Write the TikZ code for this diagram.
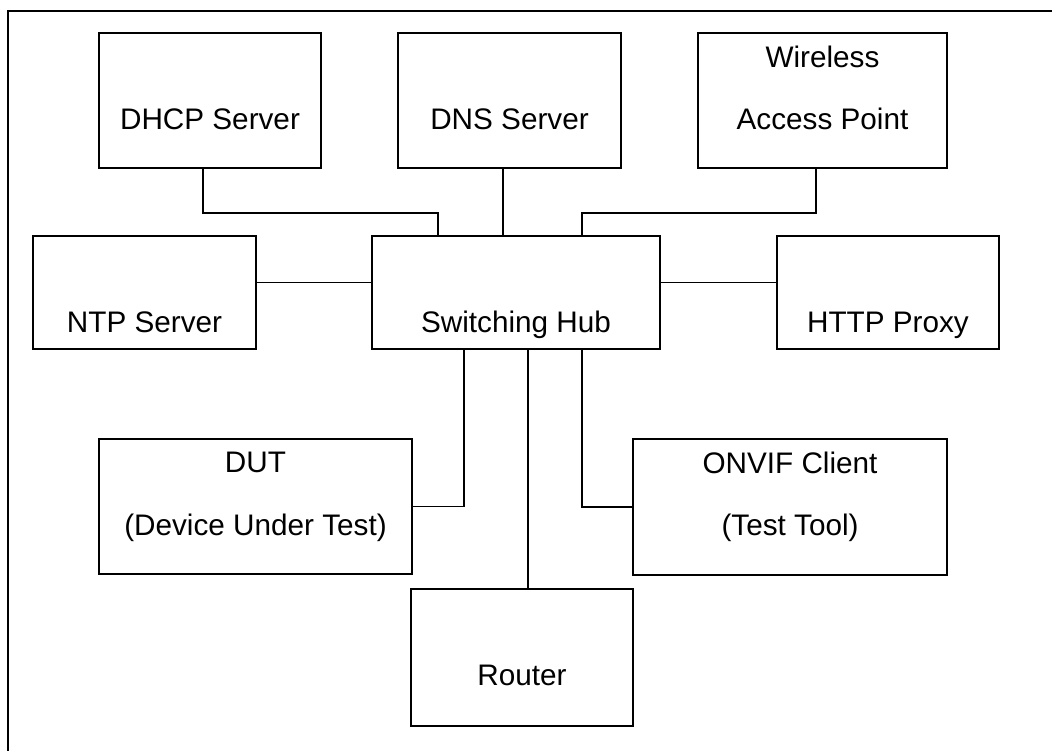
\documentclass[tikz,border=0pt]{standalone}
\usepackage{fontspec}
\setmainfont{Liberation Sans}

\begin{document}
\begin{tikzpicture}[x=1pt, y=-1pt,
    box/.style={draw, line width=1.3pt, rectangle, inner sep=0pt, outer sep=0pt},
    lbl/.style={font=\fontsize{29.7}{36}\selectfont, inner sep=0pt, text height=21pt, text depth=0pt},
    wire/.style={line width=1.8pt}]
	
	\useasboundingbox (0,0) rectangle (1052,751);
	
	% Frame (only top and left edges are seen)
	\draw[line width=2pt] (8,751) -- (8,11) -- (1052,11);
	
	% Top row of servers
	\node[box, minimum width=222pt, minimum height=135pt] (dhcp) at (210,100.5) {};
	\node[box, minimum width=223pt, minimum height=135pt] (dns) at (509.5,100.5) {};
	\node[box, minimum width=249pt, minimum height=135pt] (wap) at (822.5,100.5) {};
	\node[lbl] (dhcp-txt) at ([yshift=-86pt]dhcp.north) {DHCP Server};
	\node[lbl] (dns-txt) at ([yshift=-86pt]dns.north) {DNS Server};
	\node[lbl] (wap-txt1) at ([yshift=-24pt]wap.north) {Wireless};
	\node[lbl] (wap-txt2) at ([yshift=-86pt]wap.north) {Access Point};
	
	% Middle row with the hub
	\node[box, minimum width=223pt, minimum height=113pt] (ntp) at (144.5,292.5) {};
	\node[box, minimum width=288pt, minimum height=113pt] (hub) at (516,292.5) {};
	\node[box, minimum width=222pt, minimum height=113pt] (http) at (888,292.5) {};
	\node[lbl] (ntp-txt) at ([yshift=-86pt]ntp.north) {NTP Server};
	\node[lbl] (hub-txt) at ([yshift=-86pt]hub.north) {Switching Hub};
	\node[lbl] (http-txt) at ([yshift=-86pt]http.north) {HTTP Proxy};
	
	% Bottom rows
	\node[box, minimum width=313pt, minimum height=135pt] (dut) at (255.5,506.5) {};
	\node[box, minimum width=314pt, minimum height=136pt] (onvif) at (790,507) {};
	\node[box, minimum width=222pt, minimum height=137pt] (router) at (522,657.5) {};
	\node[lbl] (dut-txt1) at ([yshift=-23pt]dut.north) {DUT};
	\node[lbl] (dut-txt2) at ([yshift=-86pt]dut.north) {(Device Under Test)};
	\node[lbl] (onvif-txt1) at ([yshift=-24pt]onvif.north) {ONVIF Client};
	\node[lbl] (onvif-txt2) at ([yshift=-86pt]onvif.north) {(Test Tool)};
	\node[lbl] (router-txt) at ([yshift=-86pt]router.north) {Router};
	
	% Cables to the hub
	\draw[wire] ([xshift=-7pt]dhcp.south) -- ++(0,45) -| ([xshift=-78pt]hub.north);
	\draw[wire] ([xshift=-13pt]hub.north) -- ([xshift=-13pt]hub.north |- dns.south);
	\draw[wire] ([xshift=-6.5pt]wap.south) -- ++(0,45) -| ([xshift=66pt]hub.north);
	\draw[wire] ([yshift=10pt]ntp.east) -- ([yshift=10pt]hub.west);
	\draw[wire] ([yshift=10pt]hub.east) -- ([yshift=10pt]http.west);
	\draw[wire] ([xshift=-52pt]hub.south) |- (dut.east);
	\draw[wire] ([xshift=12pt]hub.south) -- ([xshift=6pt]router.north);
	\draw[wire] ([xshift=66pt]hub.south) |- (onvif.west);
	
\end{tikzpicture}
\end{document}
